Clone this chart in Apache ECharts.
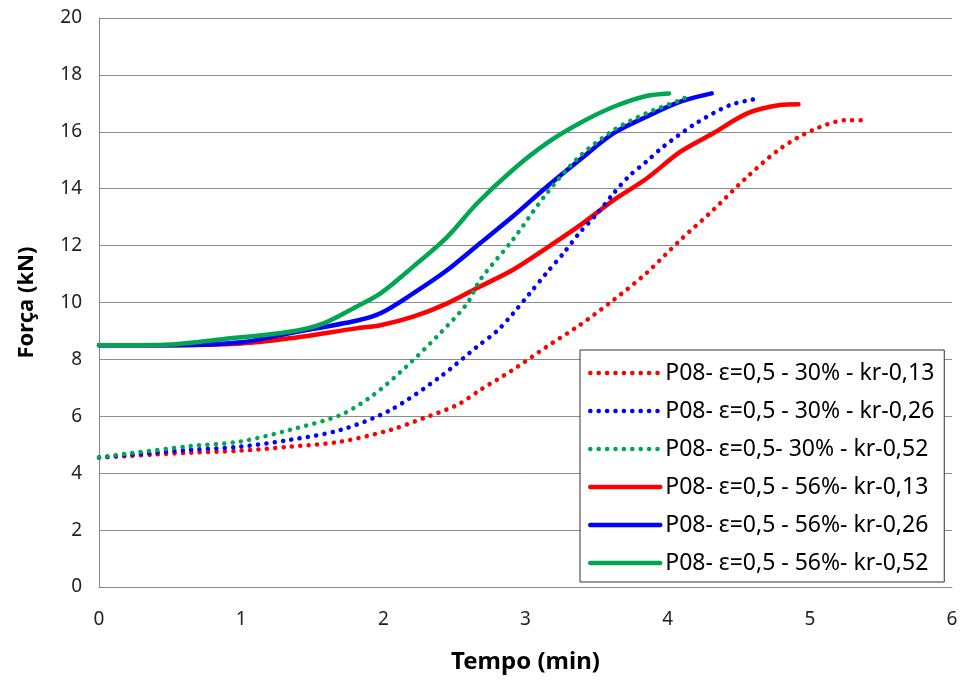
<!DOCTYPE html>
<html>
<head>
<meta charset="utf-8">
<script src="https://cdn.jsdelivr.net/npm/echarts@6/dist/echarts.min.js"></script>
<style>html,body{margin:0;padding:0;background:#fff}#c{width:961px;height:683px}</style>
</head>
<body>
<div id="c"></div>
<script>
const seriesNames = [
  'P08- ε=0,5 - 30% - kr-0,13',
  'P08- ε=0,5 - 30% - kr-0,26',
  'P08- ε=0,5- 30% - kr-0,52',
  'P08- ε=0,5 - 56%- kr-0,13',
  'P08- ε=0,5 - 56%- kr-0,26',
  'P08- ε=0,5 - 56%- kr-0,52'
];
const xTicks = [0, 1, 2, 3, 4, 5, 6];
const yTicks = [0, 2, 4, 6, 8, 10, 12, 14, 16, 18, 20];

const t30_013 = [0, 0.2, 0.4, 0.64, 0.99, 1.34, 1.7, 2.05, 2.28, 2.52, 2.68, 2.91, 3.15, 3.38, 3.62, 3.85, 4.09, 4.32, 4.56, 4.79, 5.02, 5.26, 5.38];
const f30_013 = [4.55, 4.6, 4.66, 4.72, 4.79, 4.93, 5.11, 5.52, 5.93, 6.4, 6.92, 7.63, 8.45, 9.2, 10.09, 11.03, 12.2, 13.25, 14.42, 15.4, 16.06, 16.41, 16.41];

const t30_026 = [0, 0.3, 0.64, 0.99, 1.34, 1.7, 2.05, 2.4, 2.66, 2.8, 2.91, 3.03, 3.15, 3.27, 3.38, 3.5, 3.62, 3.73, 3.85, 3.97, 4.2, 4.44, 4.65];
const f30_026 = [4.55, 4.68, 4.82, 4.93, 5.17, 5.52, 6.22, 7.39, 8.45, 9.0, 9.6, 10.32, 11.05, 11.75, 12.45, 13.1, 13.84, 14.45, 14.95, 15.48, 16.3, 16.94, 17.18];

const t30_052 = [0, 0.22, 0.64, 0.99, 1.34, 1.7, 1.93, 2.16, 2.4, 2.59, 2.68, 2.91, 3.15, 3.38, 3.62, 3.85, 4.09, 4.16];
const f30_052 = [4.55, 4.7, 4.95, 5.11, 5.52, 6.05, 6.75, 7.74, 8.92, 9.97, 10.79, 12.2, 13.84, 15.13, 16.06, 16.65, 17.12, 17.29];

const t56_013 = [0, 0.5, 1.0, 1.34, 1.81, 1.98, 2.21, 2.45, 2.68, 2.91, 3.15, 3.38, 3.62, 3.85, 4.09, 4.32, 4.56, 4.79, 4.92];
const f56_013 = [8.5, 8.5, 8.56, 8.74, 9.09, 9.2, 9.5, 9.97, 10.56, 11.14, 11.92, 12.7, 13.6, 14.35, 15.3, 15.95, 16.65, 16.94, 16.97];

const t56_026 = [0, 0.5, 1.0, 1.34, 1.81, 1.98, 2.21, 2.45, 2.68, 2.91, 3.15, 3.38, 3.62, 3.85, 4.09, 4.31];
const f56_026 = [8.5, 8.5, 8.6, 8.92, 9.36, 9.62, 10.32, 11.14, 12.08, 13.02, 14.07, 15.01, 15.95, 16.53, 17.06, 17.35];

const t56_052 = [0, 0.3, 0.5, 0.87, 1.34, 1.58, 1.81, 1.98, 2.21, 2.45, 2.66, 2.91, 3.15, 3.38, 3.62, 3.85, 4.01];
const f56_052 = [8.5, 8.5, 8.52, 8.71, 8.97, 9.27, 9.85, 10.32, 11.26, 12.31, 13.49, 14.66, 15.6, 16.3, 16.88, 17.26, 17.35];

const colors = ['#FF0000', '#0000FF', '#00A651', '#FF0000', '#0000FF', '#00A651'];
const times = [t30_013, t30_026, t30_052, t56_013, t56_026, t56_052];
const forces = [f30_013, f30_026, f30_052, f56_013, f56_026, f56_052];

const FONT = 'Noto Sans';
const chart = echarts.init(document.getElementById('c'));
const series = seriesNames.map((name, i) => {
  const dotted = i < 3;
  return {
    name: name,
    type: 'line',
    smooth: 0.3,
    showSymbol: false,
    symbol: 'none',
    data: times[i].map((t, k) => [t, forces[i][k]]),
    lineStyle: dotted
      ? { color: colors[i], width: 4.5, type: [0.1, 8.3], cap: 'round' }
      : { color: colors[i], width: 4.5, cap: 'round' },
    itemStyle: { color: colors[i] },
    z: dotted ? 3 : 2
  };
});

chart.setOption({
  animation: false,
  backgroundColor: '#fff',
  grid: { left: 99, right: 9, top: 18, bottom: 96, show: false },
  xAxis: {
    type: 'value', min: xTicks[0], max: xTicks[xTicks.length - 1], interval: 1,
    name: 'Tempo (min)', nameLocation: 'middle', nameGap: 63,
    nameTextStyle: { fontFamily: FONT, fontSize: 24, fontWeight: 'bold', color: '#000' },
    axisLine: { lineStyle: { color: '#868686', width: 1 } },
    axisTick: { show: false },
    axisLabel: { fontFamily: FONT, fontSize: 19, color: '#222', margin: 23 },
    splitLine: { show: false }
  },
  yAxis: {
    type: 'value', min: yTicks[0], max: yTicks[yTicks.length - 1], interval: 2,
    name: 'Força (kN)', nameLocation: 'middle', nameGap: 61, nameRotate: 90,
    nameTextStyle: { fontFamily: FONT, fontSize: 22, fontWeight: 'bold', color: '#000' },
    axisLine: { show: true, lineStyle: { color: '#868686', width: 1 } },
    axisTick: { show: false },
    axisLabel: { fontFamily: FONT, fontSize: 19, color: '#222', margin: 17 },
    splitLine: { show: true, lineStyle: { color: '#8c8c8c', width: 1 } }
  },
  legend: {
    orient: 'vertical',
    left: 580, top: 350,
    padding: [10, 10, 6, 8],
    itemWidth: 70, itemHeight: 14, itemGap: 12,
    backgroundColor: '#fff',
    borderColor: '#333', borderWidth: 1,
    itemStyle: { opacity: 0 },
    lineStyle: { width: 4.5 },
    textStyle: { fontFamily: FONT, fontSize: 23, color: '#000', lineHeight: 26 },
    data: seriesNames
  },
  series: series
});
</script>
</body>
</html>
